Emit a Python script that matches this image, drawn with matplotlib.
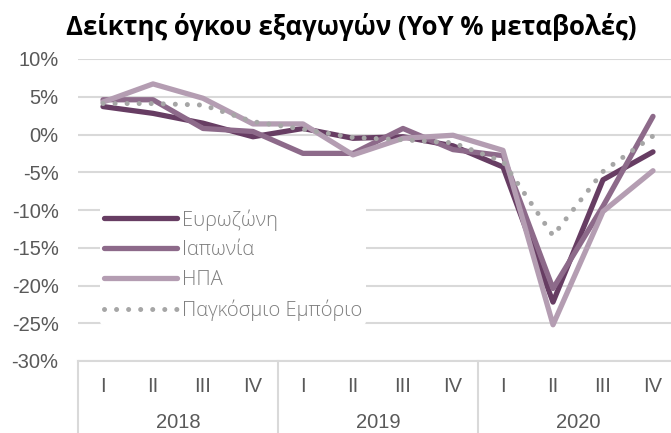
import matplotlib
matplotlib.use("Agg")
import matplotlib.pyplot as plt
import matplotlib.transforms as mtransforms

quarters = ["I", "II", "III", "IV"] * 3
years = ["2018", "2019", "2020"]
eurozone = [3.7, 2.8, 1.5, -0.3, 0.8, -0.5, -0.3, -1.5, -4.3, -22.2, -6.0, -2.3]
japan = [4.6, 4.6, 0.8, 0.4, -2.5, -2.5, 0.8, -2.0, -2.8, -20.4, -9.5, 2.4]
usa = [4.3, 6.7, 4.8, 1.4, 1.4, -2.7, -0.5, -0.1, -2.1, -25.2, -10.2, -4.8]
world = [4.1, 4.1, 3.9, 1.7, 0.7, -0.4, -0.7, -1.1, -3.6, -13.4, -4.9, -0.2]
labels = ["Ευρωζώνη", "Ιαπωνία", "ΗΠΑ", "Παγκόσμιο Εμπόριο"]
yticks = [10, 5, 0, -5, -10, -15, -20, -25, -30]

W, H = 671, 433
fig = plt.figure(figsize=(W / 100, H / 100), dpi=100)
ax = fig.add_axes([78 / W, (H - 361) / H, 600 / W, 302 / H])

x = list(range(len(quarters)))
c_eu, c_jp, c_us, c_w = "#673d63", "#8d6a8a", "#b49db2", "#a6a6a6"
lw = 3.8
ax.plot(x, eurozone, color=c_eu, lw=lw, solid_capstyle="round", solid_joinstyle="round", label=labels[0], zorder=3)
ax.plot(x, japan, color=c_jp, lw=lw, solid_capstyle="round", solid_joinstyle="round", label=labels[1], zorder=3)
ax.plot(x, usa, color=c_us, lw=lw, solid_capstyle="round", solid_joinstyle="round", label=labels[2], zorder=3)
ax.plot(x, world, color=c_w, lw=3.6, linestyle=(0, (0.01, 2.4)), dash_capstyle="round", label=labels[3], zorder=4)

ax.set_xlim(-0.5, len(quarters) - 0.5)
ax.set_ylim(-30, 10)
ax.set_yticks(yticks)
ax.set_yticklabels([f"{v}%" for v in yticks], fontfamily="Liberation Sans", fontsize=14.5, color="#595959")
ax.tick_params(axis="y", length=0, pad=14)
ax.set_xticks([])
for s in ["top", "right", "left"]:
    ax.spines[s].set_visible(False)
ax.spines["bottom"].set_color("#d9d9d9")
ax.spines["bottom"].set_linewidth(1.5)
ax.grid(axis="y", color="#d9d9d9", lw=1.5)
ax.set_axisbelow(True)

trans = mtransforms.blended_transform_factory(ax.transData, ax.transAxes)
for i, q in enumerate(quarters):
    ax.text(i, -25 / 302, q, transform=trans, ha="center", va="center",
            fontfamily="Liberation Sans", fontsize=14.5, color="#595959")
for j, yr in enumerate(years):
    ax.text(j * 4 + 1.5, -62 / 302, yr, transform=trans, ha="center", va="center",
            fontfamily="Liberation Sans", fontsize=14.5, color="#595959")
for b in [-0.5, 3.5, 7.5, 11.5]:
    ax.plot([b, b], [0, -80 / 302], transform=trans, color="#d9d9d9", lw=1.5, clip_on=False)

leg = ax.legend(loc="upper left", bbox_to_anchor=(22 / 600, (361 - 205) / 302), frameon=True,
                prop={"family": "Open Sans", "size": 14.5, "weight": "light"},
                handlelength=3.6, handletextpad=0.25, labelspacing=0.48, borderpad=0.2,
                borderaxespad=0)
leg.get_frame().set_facecolor("white")
leg.get_frame().set_edgecolor("none")
leg.get_frame().set_alpha(1)
for t in leg.get_texts():
    t.set_color("#7f7f7f")

fig.text(0.523, (H - 27) / H, "Δείκτης όγκου εξαγωγών (YoY % μεταβολές)", ha="center", va="center",
         fontfamily="Open Sans", fontweight="bold", fontsize=18.5, color="#000000")

fig.savefig("out.png", dpi=100)
